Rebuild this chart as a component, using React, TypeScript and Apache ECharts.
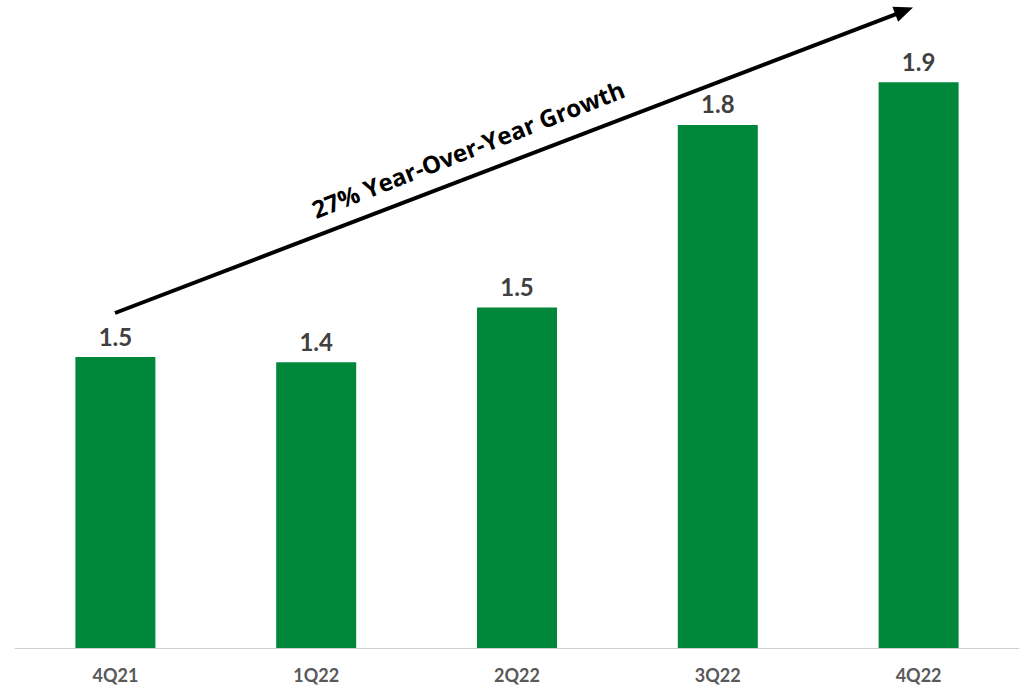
import React, { useEffect, useRef } from "react";
import * as echarts from "echarts";

const categories = ["4Q21", "1Q22", "2Q22", "3Q22", "4Q22"];
const values = [1.451, 1.443, 1.528, 1.811, 1.877];
const valueLabels = ["1.5", "1.4", "1.5", "1.8", "1.9"];
const annotationText = "27% Year-Over-Year Growth";

export default function App() {
  const ref = useRef<HTMLDivElement>(null);
  useEffect(() => {
    if (!ref.current) return;
    const chart = echarts.init(ref.current, null, { renderer: "svg" });
    const angle = Math.atan2(313 - 8, 912 - 115);
    chart.setOption({
      animation: false,
      grid: { left: 15, right: 3, top: 3, bottom: 41 },
      xAxis: {
        type: "category",
        data: categories,
        axisLine: { show: true, lineStyle: { color: "#d0d0d0", width: 1 } },
        axisTick: { show: false },
        axisLabel: {
          margin: 18,
          fontSize: 18,
          fontWeight: "bold",
          color: "#595959",
          fontFamily: "Lato",
        },
      },
      yAxis: {
        type: "value",
        min: 1.0,
        max: 2.0,
        show: false,
        splitLine: { show: false },
      },
      series: [
        {
          type: "bar",
          data: values,
          barWidth: 80,
          itemStyle: { color: "#00873a" },
          label: {
            show: true,
            position: "top",
            distance: 9,
            fontSize: 24,
            fontWeight: "bold",
            color: "#404040",
            fontFamily: "Lato",
            formatter: (p: any) => valueLabels[p.dataIndex],
          },
        },
      ],
      graphic: [
        {
          type: "line",
          shape: { x1: 115, y1: 313, x2: 900, y2: 12.6 },
          style: { stroke: "#000", lineWidth: 4 },
        },
        {
          type: "polygon",
          x: 913,
          y: 7.5,
          rotation: angle,
          shape: { points: [[0, 0], [-19, -8], [-19, 8]] },
          style: { fill: "#000" },
        },
        {
          type: "text",
          x: 468,
          y: 149,
          rotation: (21.5 * Math.PI) / 180,
          style: {
            text: annotationText,
            fontSize: 24,
            fontWeight: "bold",
            fontFamily: "Open Sans",
            fill: "#000",
            align: "center",
            verticalAlign: "middle",
          },
        },
      ],
    });
    return () => chart.dispose();
  }, []);
  return (
    <div
      ref={ref}
      style={{ position: "absolute", left: 0, top: 0, width: 1022, height: 689, background: "#fff" }}
    />
  );
}
